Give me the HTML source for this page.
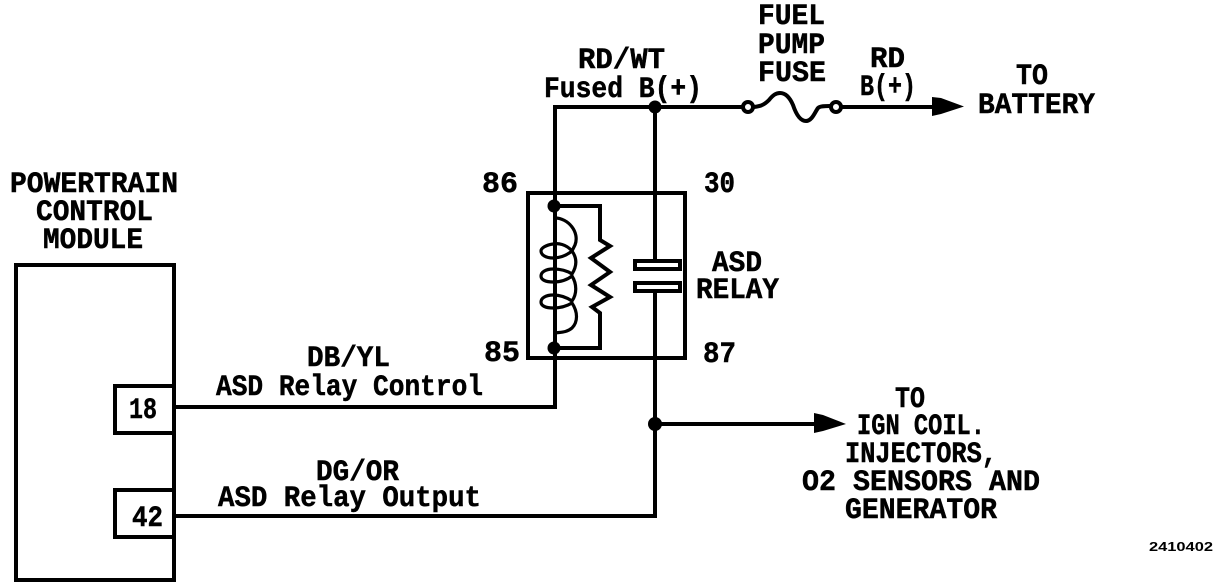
<!DOCTYPE html>
<html><head><meta charset="utf-8"><style>
html,body{margin:0;padding:0;background:#fff;width:1232px;height:588px;overflow:hidden}
svg{display:block}
text{font-family:"Liberation Mono",monospace;font-weight:bold;font-size:30px;fill:#000;stroke:#000;stroke-width:.5}
.l{fill:none;stroke:#000;stroke-width:4}
.c{fill:none;stroke:#000;stroke-width:3.2}
</style></head><body>
<svg width="1232" height="588" viewBox="0 0 1232 588" xmlns="http://www.w3.org/2000/svg">
<rect class="l" x="16" y="265" width="158" height="315"/>
<rect class="l" x="115" y="386" width="59" height="47"/>
<rect class="l" x="115" y="490" width="59" height="47"/>
<rect class="l" x="528" y="193" width="157" height="165"/>
<path class="l" d="M174 407H555V107H742M836 107H935M655 107V262M655 291V516H174M655 424H818"/>
<path class="l" d="M754 107C762 106 765 104 769 100C773 95 776 93 780 93C786 93 790 98 793 105C796 114 800 121 806 121C812 121 815 112 818 108C820 106 825 106 830 106"/>
<circle class="l" cx="748" cy="107" r="5" style="fill:#fff"/>
<circle class="l" cx="836" cy="107" r="5" style="fill:#fff"/>
<path d="M932 97L941 98L964 106.5L941 114L932 116Z"/>
<path d="M814 413L823 415L846 424L823 431L814 433Z"/>
<circle cx="655" cy="107" r="6.5"/><circle cx="655" cy="424" r="7"/>
<circle cx="554" cy="206" r="6.5"/><circle cx="554" cy="348" r="6.5"/>
<path class="l" d="M554 206H600V240L610 246L591 258L610 272L591 285L610 297L592 307L600 313V348H554"/>
<path class="c" d="M555 218C568 218 580 232 575 245L572 251C566 244 558 243 553 244C546 245 541 248 541 251C541 255 546 258 553 258C560 258 567 255 572 251C577 258 577 266 572 274C566 270 560 269 553 269C546 269 541 272 541 276C541 280 546 282 553 282C560 282 567 280 572 276C577 284 577 294 572 301C566 297 560 295 553 295C546 295 541 298 541 302C541 306 546 308 553 308C560 308 567 306 572 303C578 312 578 322 572 328C566 333 560 332 555 333"/>
<rect class="l" x="635" y="261" width="45" height="8"/>
<rect class="l" x="635" y="283" width="45" height="8"/>

<text x="578" y="68" textLength="87" lengthAdjust="spacingAndGlyphs">RD/WT</text>
<text x="544" y="97" textLength="158" lengthAdjust="spacingAndGlyphs">Fused B(+)</text>
<text x="758" y="24" textLength="67" lengthAdjust="spacingAndGlyphs">FUEL</text>
<text x="758" y="53" textLength="67" lengthAdjust="spacingAndGlyphs">PUMP</text>
<text x="758" y="81" textLength="68" lengthAdjust="spacingAndGlyphs">FUSE</text>
<text x="870" y="67" textLength="35" lengthAdjust="spacingAndGlyphs">RD</text>
<text x="860" y="95" textLength="56" lengthAdjust="spacingAndGlyphs">B(+)</text>
<text x="1016" y="84" textLength="32" lengthAdjust="spacingAndGlyphs">TO</text>
<text x="978" y="113" textLength="117" lengthAdjust="spacingAndGlyphs">BATTERY</text>
<text x="10" y="192" textLength="168" lengthAdjust="spacingAndGlyphs">POWERTRAIN</text>
<text x="36" y="220" textLength="117" lengthAdjust="spacingAndGlyphs">CONTROL</text>
<text x="43" y="248" textLength="100" lengthAdjust="spacingAndGlyphs">MODULE</text>
<text x="482" y="192" textLength="36" lengthAdjust="spacingAndGlyphs">86</text>
<text x="704" y="192" textLength="31" lengthAdjust="spacingAndGlyphs">30</text>
<text x="484" y="361" textLength="36" lengthAdjust="spacingAndGlyphs">85</text>
<text x="703" y="362" textLength="33" lengthAdjust="spacingAndGlyphs">87</text>
<text x="712" y="271" textLength="50" lengthAdjust="spacingAndGlyphs">ASD</text>
<text x="696" y="298" textLength="83" lengthAdjust="spacingAndGlyphs">RELAY</text>
<text x="307" y="366" textLength="83" lengthAdjust="spacingAndGlyphs">DB/YL</text>
<text x="216" y="395" textLength="267" lengthAdjust="spacingAndGlyphs">ASD Relay Control</text>
<text x="316" y="480" textLength="83" lengthAdjust="spacingAndGlyphs">DG/OR</text>
<text x="218" y="506" textLength="263" lengthAdjust="spacingAndGlyphs">ASD Relay Output</text>
<text x="129" y="418" textLength="28" lengthAdjust="spacingAndGlyphs">18</text>
<text x="132" y="526" textLength="31" lengthAdjust="spacingAndGlyphs">42</text>
<text x="895" y="407" textLength="30" lengthAdjust="spacingAndGlyphs">TO</text>
<text x="857" y="434" textLength="128" lengthAdjust="spacingAndGlyphs">IGN COIL.</text>
<text x="845" y="462" textLength="152" lengthAdjust="spacingAndGlyphs">INJECTORS,</text>
<text x="802" y="490" textLength="238" lengthAdjust="spacingAndGlyphs">O2 SENSORS AND</text>
<text x="845" y="518" textLength="152" lengthAdjust="spacingAndGlyphs">GENERATOR</text>
<text x="1149" y="551" textLength="64" lengthAdjust="spacingAndGlyphs" style="font-family:'Liberation Sans',sans-serif;font-size:13px;stroke:none">2410402</text>
</svg>
</body></html>
